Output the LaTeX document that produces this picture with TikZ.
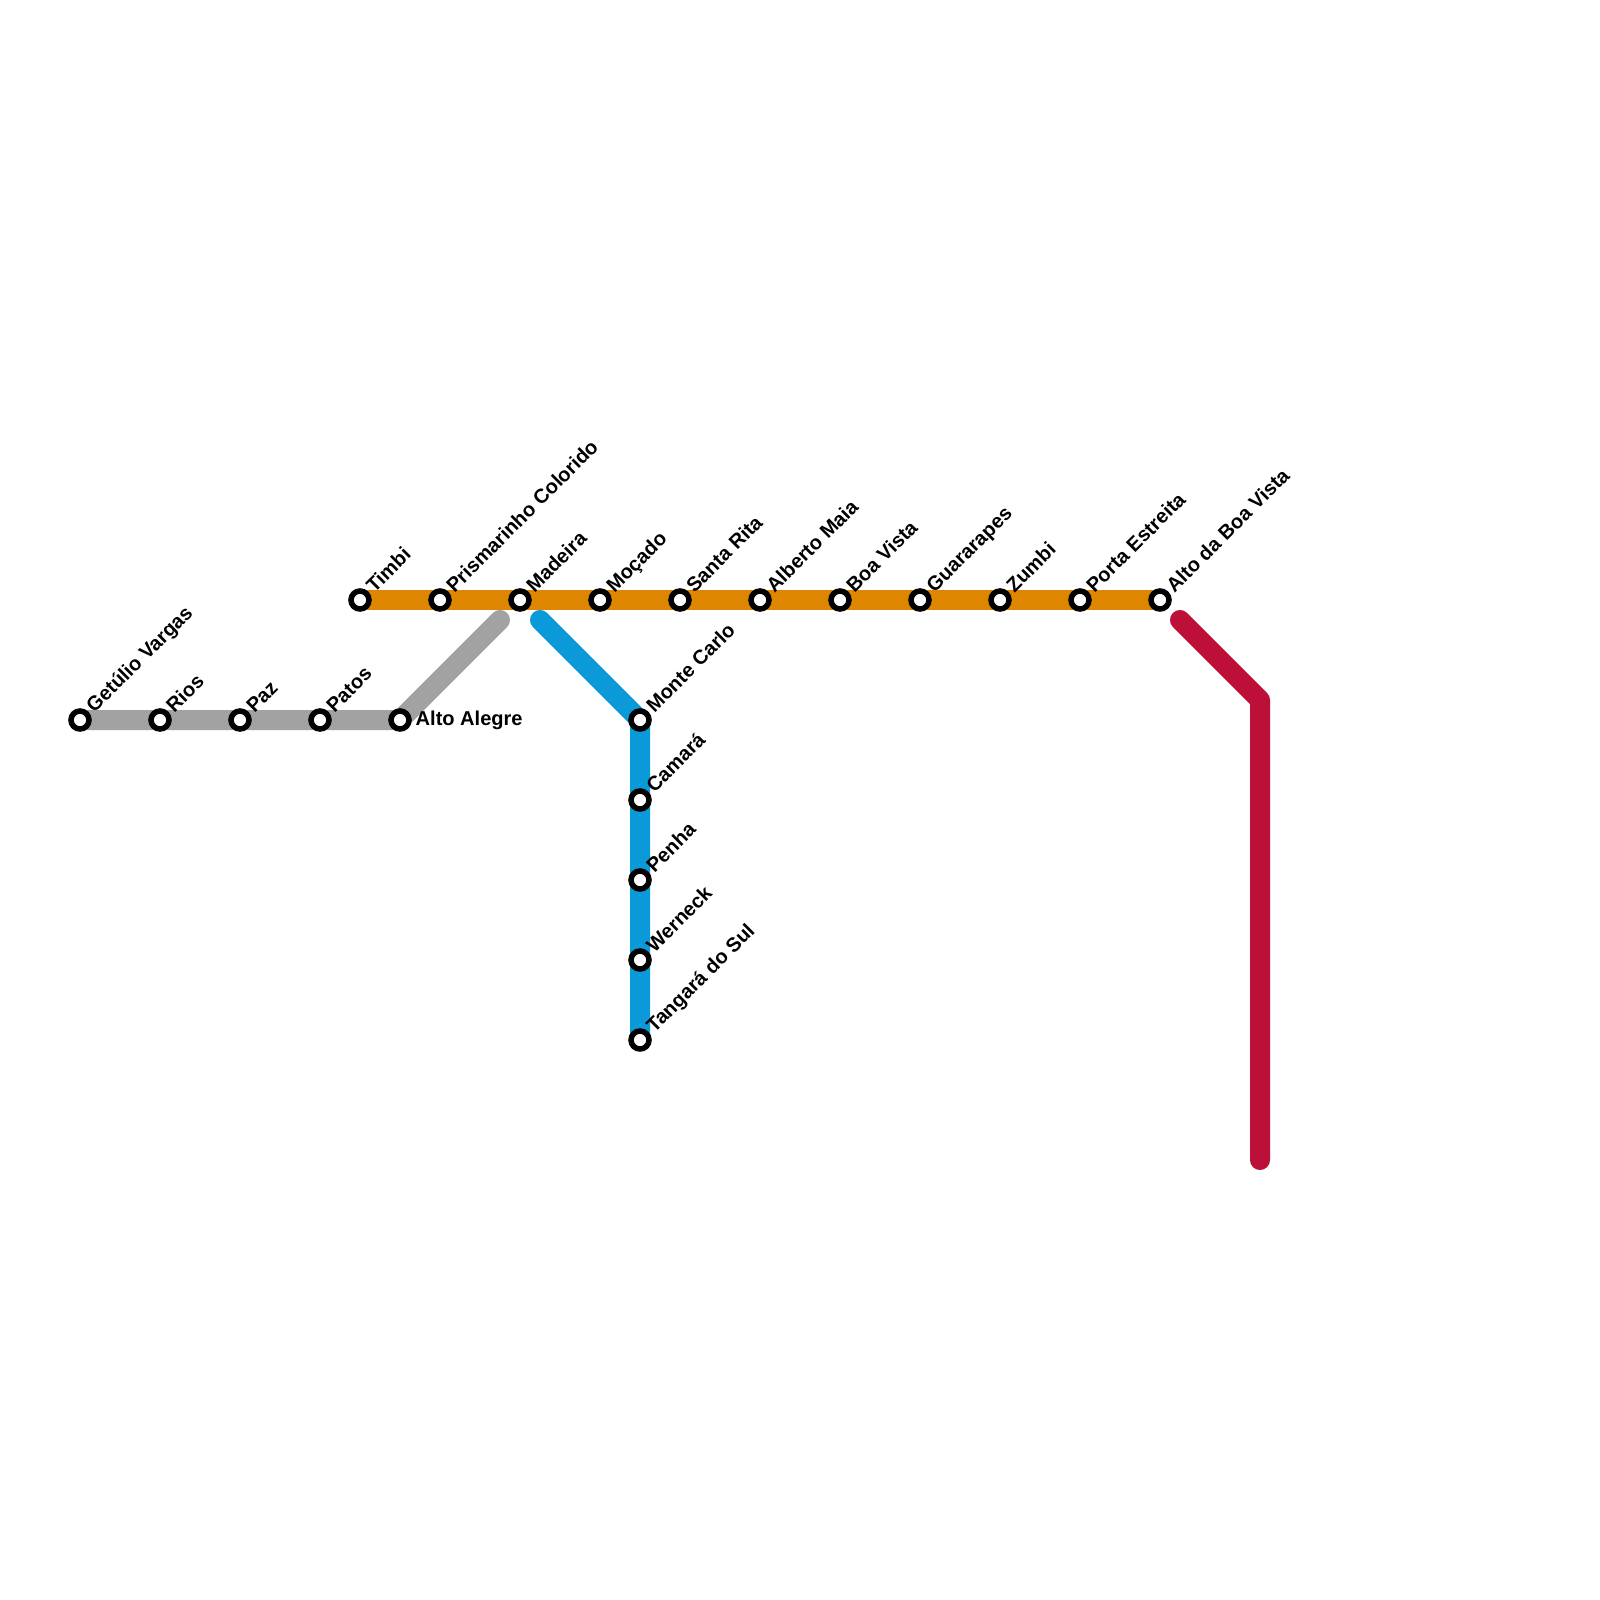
\documentclass[tikz,border=0pt]{standalone}
\usepackage{fontspec}
\setmainfont{Liberation Sans}
\usetikzlibrary{backgrounds}
\definecolor{linegrey}{HTML}{A2A2A2}
\definecolor{lineorange}{HTML}{DF8600}
\definecolor{lineblue}{HTML}{0A9ADA}
\definecolor{linered}{HTML}{BD1038}
\tikzset{
  metroline/.style={line width=0.2cm,line cap=round,line join=round},
  stn/.style={circle,draw=black,fill=white,line width=0.055cm,minimum size=0.18cm,inner sep=0pt},
  stnlabel/.style={anchor=base west,inner sep=0pt,font=\fontsize{5.7pt}{6pt}\selectfont\bfseries},
  stnslant/.style={stnlabel,rotate=45},
}
\begin{document}
\begin{tikzpicture}[x=0.01cm,y=-0.01cm]
\useasboundingbox (0,0) rectangle (1600,1600);
\coordinate (greyend) at (500,620);
\coordinate (blueend) at (540,620);
\coordinate (redend) at (1180,620);
\coordinate (redbend) at (1260,700);
\coordinate (redfoot) at (1260,1160);
\foreach \stn/\x/\y/\txt in {getulio/80/720/Getúlio Vargas,rios/160/720/Rios,paz/240/720/Paz,patos/320/720/Patos,
  timbi/360/600/Timbi,prismarinho/440/600/Prismarinho Colorido,madeira/520/600/Madeira,mocado/600/600/Moçado,
  santarita/680/600/Santa Rita,alberto/760/600/Alberto Maia,boavista/840/600/Boa Vista,guararapes/920/600/Guararapes,
  zumbi/1000/600/Zumbi,porta/1080/600/Porta Estreita,altoboa/1160/600/Alto da Boa Vista,
  montecarlo/640/720/Monte Carlo,camara/640/800/Camará,penha/640/880/Penha,werneck/640/960/Werneck,tangara/640/1040/Tangará do Sul} {
  \node[stn] (\stn) at (\x,\y) {};
  \node[stnslant] (lbl\stn) at (\x+14,\y-6) {\txt};
}
\node[stn] (altoalegre) at (400,720) {};
\node[stnlabel] (lblaltoalegre) at (415,725) {Alto Alegre};
\begin{scope}[on background layer]
\draw[metroline,linegrey] (getulio.center) -- (altoalegre.center) -- (greyend);
\draw[metroline,lineorange] (timbi.center) -- (altoboa.center);
\draw[metroline,lineblue] (blueend) -- (montecarlo.center) -- (tangara.center);
\draw[metroline,linered] (redend) -- (redbend) -- (redfoot);
\end{scope}
\end{tikzpicture}
\end{document}
